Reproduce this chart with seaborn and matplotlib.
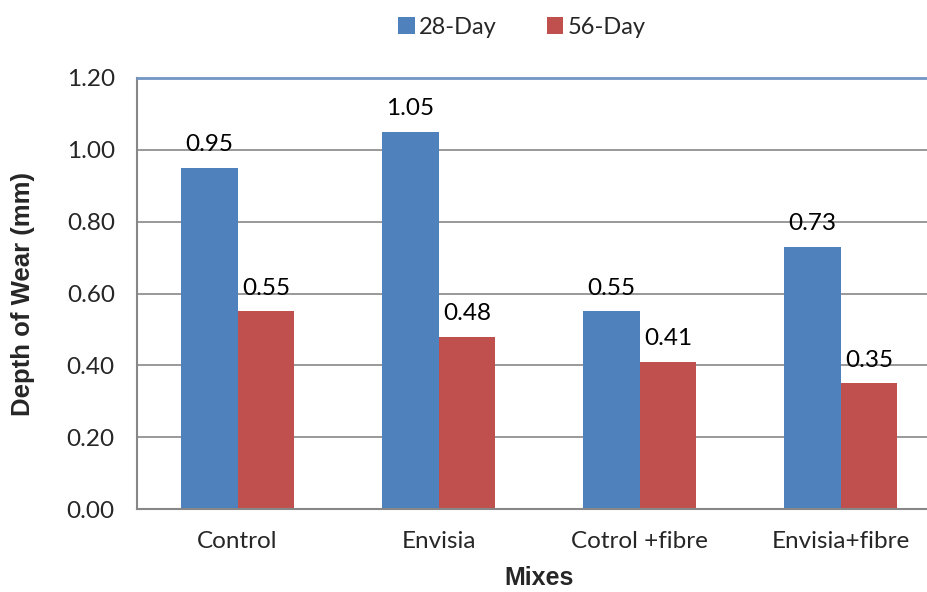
import matplotlib
matplotlib.use("Agg")
import matplotlib.pyplot as plt
import seaborn as sns
import pandas as pd

categories = ["Control", "Envisia", "Cotrol +fibre", "Envisia+fibre"]
series_names = ["28-Day", "56-Day"]
day28 = [0.95, 1.05, 0.55, 0.73]
day56 = [0.55, 0.48, 0.41, 0.35]
yticks = [0.0, 0.2, 0.4, 0.6, 0.8, 1.0, 1.2]
colors = ["#4f81bd", "#c0504d"]

df = pd.DataFrame({
    "Mix": categories * 2,
    "Series": [series_names[0]] * 4 + [series_names[1]] * 4,
    "Wear": day28 + day56,
})

sns.set_style("white")
plt.rcParams["font.family"] = ["Lato", "DejaVu Sans"]

fig = plt.figure(figsize=(9.28, 5.92), dpi=100)
ax = fig.add_axes([137 / 928, 1 - 509 / 592, (941 - 137) / 928, (509 - 78) / 592])

sns.barplot(data=df, x="Mix", y="Wear", hue="Series", palette=colors,
            width=0.567, gap=0, saturation=1, ax=ax, legend=True,
            edgecolor="none", linewidth=0)

for cont in ax.containers:
    ax.bar_label(cont, fmt="%.2f", padding=9, fontsize=17.5, color="#000000")

ax.set_ylim(0, 1.2)
ax.set_xlim(-0.5, 3.5)
ax.set_yticks(yticks)
ax.set_yticklabels([f"{v:.2f}" for v in yticks], fontsize=17.5)
ax.set_xticks([0, 1, 2, 3])
ax.set_xticklabels(categories, fontsize=17.5)
ax.set_xticks([-0.5, 0.5, 1.5, 2.5, 3.5], minor=True)
ax.tick_params(axis="x", which="major", length=0, pad=16)
ax.tick_params(axis="x", which="minor", length=6, direction="out", color="#878787", width=1.5)
ax.tick_params(axis="y", length=6, direction="out", color="#878787", width=1.5, pad=10)

ax.grid(axis="y", color="#878787", linewidth=1.2)
ax.set_axisbelow(True)
for s in ["top", "right"]:
    ax.spines[s].set_visible(False)
for s in ["left", "bottom"]:
    ax.spines[s].set_color("#878787")
    ax.spines[s].set_linewidth(1.5)
ax.axhline(1.2, color="#7296c4", linewidth=2, zorder=3, clip_on=False)

ax.set_xlabel("Mixes", fontsize=18, fontweight="bold", family="Liberation Sans")
ax.set_ylabel("Depth of Wear (mm)", fontsize=18.5, fontweight="bold", family="Liberation Sans")
ax.xaxis.set_label_coords(0.5, (509 - 578) / 431)
ax.yaxis.set_label_coords((23 - 137) / 804, 0.5)
ax.xaxis.label.set_va("center")
ax.yaxis.label.set_va("center")

leg = ax.legend(loc="center", bbox_to_anchor=(522 / 928, 1 - 27 / 592),
                bbox_transform=fig.transFigure, ncol=2, frameon=False,
                fontsize=17, handlelength=0.7, handleheight=0.7,
                handletextpad=0.2, columnspacing=2.1)

fig.savefig("out.png", dpi=100)
